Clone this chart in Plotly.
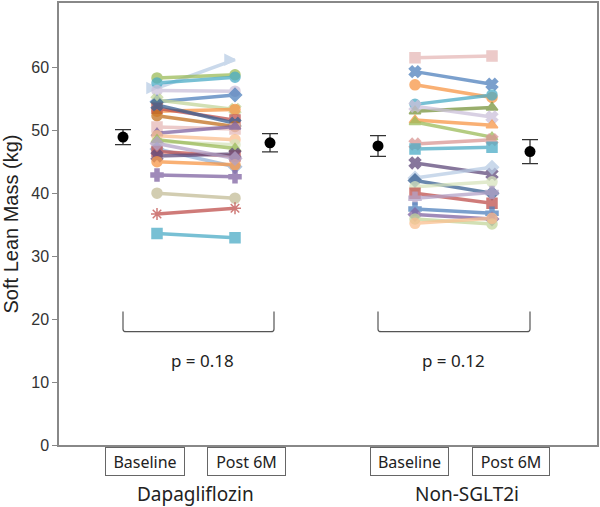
import plotly.graph_objects as go

# ---------------- data ----------------
groups = ["Dapagliflozin", "Non-SGLT2i"]
timepoints = ["Baseline", "Post 6M"]
p_values = ["p = 0.18", "p = 0.12"]

dapa_baseline = [56.7, 58.3, 57.5, 56.3, 54.5, 54.8, 53.0, 53.5, 54.0, 52.3, 50.5, 49.5,
                 49.1, 48.2, 48.5, 47.0, 46.6, 45.9, 45.0, 42.9, 40.0, 36.7, 33.6, 47.9]
dapa_post = [61.2, 58.8, 58.4, 56.2, 55.6, 53.3, 53.3, 51.6, 51.1, 50.6, 50.2, 50.6,
             48.5, 47.7, 47.1, 44.2, 45.9, 46.2, 44.5, 42.6, 39.2, 37.6, 32.9, 45.5]
non_baseline = [61.5, 59.3, 57.2, 54.1, 53.0, 53.8, 51.6, 51.3, 47.8, 47.0, 44.8, 42.4,
                42.0, 41.0, 40.0, 39.2, 37.5, 36.6, 35.9, 35.2]
non_post = [61.8, 57.3, 55.2, 55.6, 53.6, 52.1, 50.8, 48.9, 48.5, 47.3, 43.0, 44.1,
            40.0, 41.8, 38.4, 40.1, 36.8, 35.9, 35.1, 36.0]

mean_values = {"Dapagliflozin": [48.9, 48.0], "Non-SGLT2i": [47.5, 46.6]}
mean_errors = {"Dapagliflozin": [1.2, 1.45], "Non-SGLT2i": [1.65, 1.9]}

# ---------------- styles ----------------
dapa_colors = ["#B9CDE5", "#9BBB59", "#4BACC6", "#CCC1DA", "#4F81BD", "#C3D69B", "#F79646",
               "#C0504D", "#376092", "#C2701E", "#E6B9B8", "#8064A2", "#FAC090", "#D7E4BD",
               "#9BBB59", "#95B3D7", "#C0504D", "#604A7B", "#F79646", "#8064A2", "#C4BD97",
               "#C0504D", "#4BACC6", "#B3A2C7"]
dapa_symbols = ["arrow-right", "circle", "circle", "circle", "diamond", "x", "circle",
                "square", "x", "circle", "square", "triangle-up", "circle", "circle",
                "triangle-up", "diamond", "square", "x", "circle", "cross", "circle",
                "asterisk", "square", "diamond"]
non_colors = ["#E6B9B8", "#4F81BD", "#F79646", "#4BACC6", "#77933C", "#CCC1DA", "#F79646",
              "#9BBB59", "#D99694", "#4BACC6", "#604A7B", "#B9CDE5", "#376092", "#D7E4BD",
              "#C0504D", "#B3A2C7", "#4F81BD", "#8064A2", "#C3D69B", "#FAC090"]
non_symbols = ["square", "x", "circle", "circle", "triangle-up", "x", "triangle-up",
               "triangle-up", "x", "square", "x", "diamond", "diamond", "circle", "square",
               "cross", "cross", "diamond", "circle", "circle"]

# layout helpers (pixel -> data / paper coordinate)
def px(p):
    return (p - 157) / 78.0 + 1.0

def py(p):
    return (445.0 - p) / 442.0

x_pos = {"Dapagliflozin": (px(157), px(235)), "Non-SGLT2i": (px(415), px(492))}
x_mean = {"Dapagliflozin": (px(123), px(270)), "Non-SGLT2i": (px(378), px(530))}

fig = go.Figure()

def add_lines(xs, base, post, colors, symbols):
    for b, p, c, s in zip(base, post, colors, symbols):
        fig.add_trace(go.Scatter(
            x=list(xs), y=[b, p], mode="lines+markers",
            line=dict(color=c, width=3.5),
            marker=dict(color=c, size=10, symbol=s, line=dict(color=c, width=1.5)),
            opacity=0.75, showlegend=False, hoverinfo="y"))

add_lines(x_pos["Dapagliflozin"], dapa_baseline, dapa_post, dapa_colors, dapa_symbols)
add_lines(x_pos["Non-SGLT2i"], non_baseline, non_post, non_colors, non_symbols)

for g in groups:
    fig.add_trace(go.Scatter(
        x=list(x_mean[g]), y=mean_values[g], mode="markers",
        marker=dict(color="black", size=11),
        error_y=dict(type="data", array=mean_errors[g], color="#333333", thickness=1.3, width=8),
        showlegend=False))

# brackets and p-values
bracket_px = [(123, 274), (378, 530)]
p_px = [202, 453]
for (a, b), pv, pp in zip(bracket_px, p_values, p_px):
    x0, x1 = px(a), px(b)
    fig.add_shape(type="path",
                  path=f"M {x0} 21.2 L {x0} 18.4 Q {x0} 18.0 {x0+0.04} 18.0 L {x1-0.04} 18.0 Q {x1} 18.0 {x1} 18.4 L {x1} 21.2",
                  line=dict(color="#555555", width=1.2))
    fig.add_annotation(x=px(pp), y=13.4, text=pv, showarrow=False,
                       font=dict(family="Noto Sans", size=17, color="#222222"))

# category boxes below the axis
box_px = [(145, 80), (246.5, 79), (409.5, 79), (511, 78)]
labels = timepoints + timepoints
for (cx, w), lab in zip(box_px, labels):
    fig.add_annotation(x=px(cx), xref="x", y=py(461.5), yref="paper", yanchor="middle",
                       text=lab, showarrow=False,
                       font=dict(family="Noto Sans", size=16, color="#222222"),
                       width=w - 6, height=23, borderpad=2, bordercolor="#666666",
                       borderwidth=1, bgcolor="white")
for g, gx in zip(groups, [195, 467]):
    fig.add_annotation(x=px(gx), xref="x", y=py(494), yref="paper", yanchor="middle",
                       text=g, showarrow=False,
                       font=dict(family="Noto Sans", size=19, color="#222222"))

fig.update_layout(
    width=600, height=507,
    margin=dict(l=59, r=3, t=3, b=62),
    plot_bgcolor="white", paper_bgcolor="white",
    font=dict(family="Liberation Sans, Arial", color="#333333"),
)
fig.update_xaxes(range=[px(59), px(597)], showticklabels=False, ticks="",
                 showgrid=False, zeroline=False, showline=True, linecolor="#888888",
                 linewidth=1.5, mirror=True, automargin=False)
fig.update_yaxes(range=[0, 70.2], tickvals=[0, 10, 20, 30, 40, 50, 60], ticks="outside",
                 ticklen=5, tickcolor="#888888", tickfont=dict(size=16, color="#333333"),
                 showgrid=False, zeroline=False, showline=True, linecolor="#888888",
                 linewidth=1.5, mirror=True, automargin=False,
                 title=dict(text="Soft Lean Mass (kg)", font=dict(size=20, color="#222222"),
                            standoff=8))

fig.write_html("out.html", config={"displayModeBar": False},
               post_script="document.body.style.margin='0px';")
